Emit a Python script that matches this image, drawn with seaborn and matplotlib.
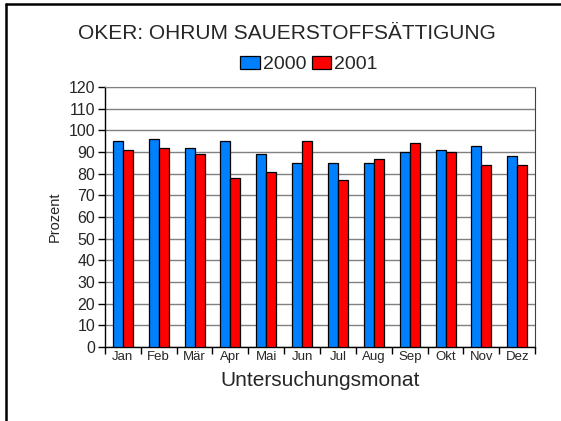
import matplotlib
matplotlib.use("Agg")
import matplotlib.pyplot as plt
import numpy as np
import pandas as pd
import seaborn as sns
from matplotlib.lines import Line2D
from matplotlib.ticker import FixedLocator

months = ["Jan", "Feb", "Mär", "Apr", "Mai", "Jun", "Jul", "Aug", "Sep", "Okt", "Nov", "Dez"]
years = ["2000", "2001"]
werte_2000 = [95, 96, 92, 95, 89, 85, 85, 85, 90, 91, 93, 88]
werte_2001 = [91, 92, 89, 78, 81, 95, 77, 87, 94, 90, 84, 84]

df = pd.DataFrame({
    "Monat": months * 2,
    "Jahr": [years[0]] * 12 + [years[1]] * 12,
    "Prozent": werte_2000 + werte_2001,
})

sns.set_style("white")
plt.rcParams["font.family"] = ["Liberation Sans", "DejaVu Sans"]

fig = plt.figure(figsize=(5.61, 4.21), dpi=100)
ax = fig.add_axes([0.187, 0.176, 0.767, 0.617])

sns.barplot(data=df, x="Monat", y="Prozent", hue="Jahr", order=months,
            palette=["#0080ff", "#ff0000"], width=0.56, gap=0,
            edgecolor="black", linewidth=0.9, saturation=1, ax=ax, zorder=3)

ax.set_ylim(0, 120)
ax.set_xlim(-0.5, 11.5)
ax.set_yticks(np.arange(0, 121, 10))
ax.yaxis.grid(True, color="#808080", linewidth=1, zorder=0)
ax.set_axisbelow(True)

ax.tick_params(axis="y", direction="out", length=5, width=1, color="black", labelsize=11.5, pad=2, left=True)
ax.tick_params(axis="x", which="major", length=0, labelsize=9.5, pad=3)
ax.xaxis.set_minor_locator(FixedLocator(np.arange(-0.5, 12, 1)))
ax.tick_params(axis="x", which="minor", direction="out", length=5, width=1, color="black", bottom=True)

for side in ["left", "bottom"]:
    ax.spines[side].set_color("black")
    ax.spines[side].set_linewidth(1)
ax.spines["top"].set_color("#808080")
ax.spines["right"].set_color("#404040")

ax.set_xlabel("Untersuchungsmonat", fontsize=15, labelpad=6)
ax.set_ylabel("Prozent", fontsize=10.5, labelpad=5)

fig.text(0.512, 0.921, "OKER: OHRUM SAUERSTOFFSÄTTIGUNG", fontsize=15, ha="center", va="center")

handles, labels = ax.get_legend_handles_labels()
ax.legend(handles, labels, loc="center", bbox_to_anchor=(0.551, 0.847), bbox_transform=fig.transFigure,
          ncol=2, frameon=False, fontsize=14, handlelength=1.0, handleheight=0.7,
          handletextpad=0.15, columnspacing=0.3, borderpad=0)

fig.add_artist(Line2D([0.011, 0.011], [0, 0.99], color="black", linewidth=1.8))
fig.add_artist(Line2D([0.011, 1], [0.99, 0.99], color="black", linewidth=1.8))

fig.savefig("out.png", dpi=100)
